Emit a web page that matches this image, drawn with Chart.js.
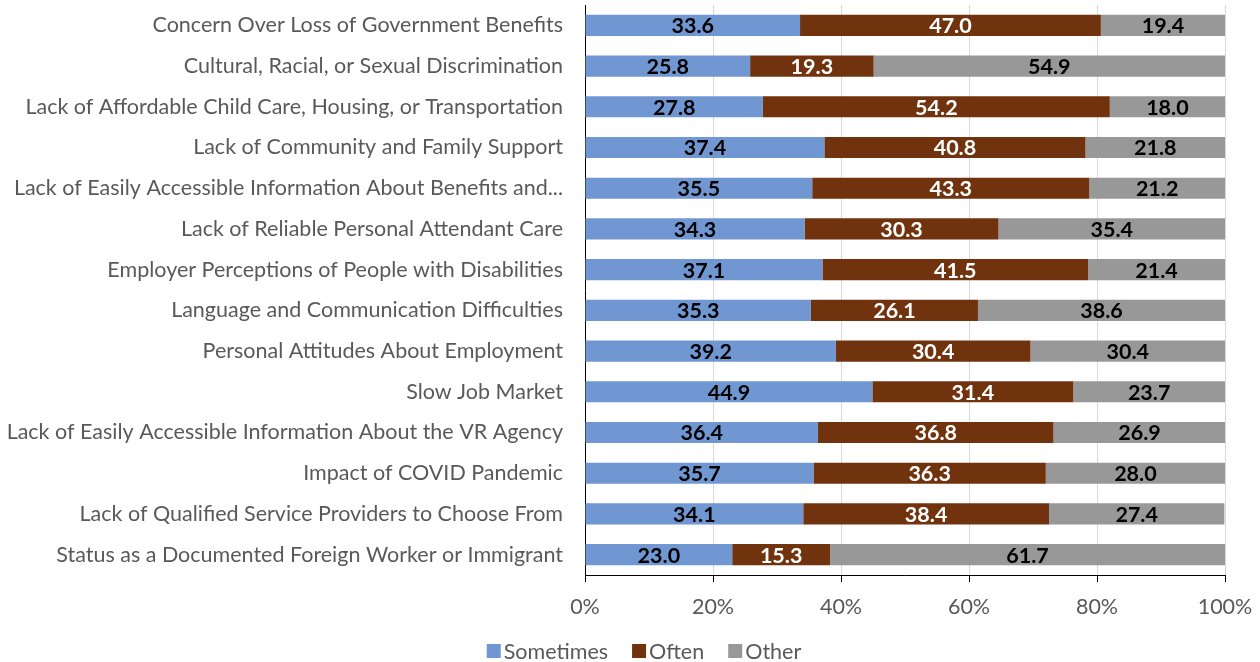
<!DOCTYPE html>
<html>
<head>
<meta charset="utf-8">
<script src="https://cdn.jsdelivr.net/npm/chart.js@4"></script>
<style>
  html, body { margin: 0; padding: 0; background: #fff; }
  #wrap { width: 1260px; height: 662px; }
</style>
</head>
<body>
<div id="wrap"><canvas id="myChart" width="1260" height="662"></canvas></div>
<script>
var categories = [
    "Concern Over Loss of Government Benefits",
    "Cultural, Racial, or Sexual Discrimination",
    "Lack of Affordable Child Care, Housing, or Transportation",
    "Lack of Community and Family Support",
    "Lack of Easily Accessible Information About Benefits and...",
    "Lack of Reliable Personal Attendant Care",
    "Employer Perceptions of People with Disabilities",
    "Language and Communication Difficulties",
    "Personal Attitudes About Employment",
    "Slow Job Market",
    "Lack of Easily Accessible Information About the VR Agency",
    "Impact of COVID Pandemic",
    "Lack of Qualified Service Providers to Choose From",
    "Status as a Documented Foreign Worker or Immigrant"
];
var sometimesValues = [33.6, 25.8, 27.8, 37.4, 35.5, 34.3, 37.1, 35.3, 39.2, 44.9, 36.4, 35.7, 34.1, 23.0];
var oftenValues = [47.0, 19.3, 54.2, 40.8, 43.3, 30.3, 41.5, 26.1, 30.4, 31.4, 36.8, 36.3, 38.4, 15.3];
var otherValues = [19.4, 54.9, 18.0, 21.8, 21.2, 35.4, 21.4, 38.6, 30.4, 23.7, 26.9, 28.0, 27.4, 61.7];
var xTicks = [0, 20, 40, 60, 80, 100];

var labelColors = ["#000000", "#ffffff", "#000000"];
var fontSize = 21.5;

// writes the value in the middle of every bar segment
const segmentLabels = {
    id: "segmentLabels",
    afterDatasetsDraw(chart) {
        const ctx = chart.ctx;
        ctx.save();
        ctx.font = "bold " + fontSize + "px Lato";
        ctx.textAlign = "center";
        ctx.textBaseline = "middle";
        chart.data.datasets.forEach((ds, i) => {
            const meta = chart.getDatasetMeta(i);
            meta.data.forEach((bar, j) => {
                const p = bar.getProps(["x", "y", "base"], true);
                ctx.fillStyle = labelColors[i];
                ctx.fillText(ds.data[j].toFixed(1), (p.x + p.base) / 2, p.y + 1);
            });
        });
        ctx.restore();
    }
};

// small legend under the axis: square swatch, tight gap, then the name
const bottomLegend = {
    id: "bottomLegend",
    afterDraw(chart) {
        const ctx = chart.ctx;
        const box = 14, gap = 3, itemGap = 24, centerX = 644, y = 651;
        ctx.save();
        ctx.font = fontSize + "px Lato";
        ctx.textBaseline = "middle";
        const items = chart.data.datasets.map(ds => ({
            text: ds.label, color: ds.backgroundColor, w: ctx.measureText(ds.label).width
        }));
        let total = items.reduce((s, it) => s + box + gap + it.w, 0) + itemGap * (items.length - 1);
        let x = centerX - total / 2;
        items.forEach(it => {
            ctx.fillStyle = it.color;
            ctx.fillRect(x, y - box / 2, box, box);
            ctx.fillStyle = "#595959";
            ctx.fillText(it.text, x + box + gap, y + 1);
            x += box + gap + it.w + itemGap;
        });
        ctx.restore();
    }
};

new Chart("myChart", {
    type: "bar",
    data: {
        labels: categories,
        datasets: [
            { label: "Sometimes", data: sometimesValues, backgroundColor: "#7097d2" },
            { label: "Often", data: oftenValues, backgroundColor: "#71330e" },
            { label: "Other", data: otherValues, backgroundColor: "#989898" }
        ]
    },
    options: {
        indexAxis: "y",
        responsive: false,
        animation: false,
        layout: { padding: { top: 5, right: 35, bottom: 0, left: 0 } },
        datasets: { bar: { barPercentage: 0.52, categoryPercentage: 1.0 } },
        scales: {
            x: {
                stacked: true,
                min: 0,
                max: 100,
                afterBuildTicks: (scale) => { scale.ticks = xTicks.map(v => ({ value: v })); },
                afterFit: (scale) => {
                    scale.height = 87;
                    scale.paddingLeft = 0;
                    scale.paddingRight = 0;
                },
                ticks: {
                    callback: (v) => v + "%",
                    color: "#595959",
                    font: { family: "Lato", size: fontSize },
                    padding: 12
                },
                grid: { color: "#d9d9d9", tickColor: "#000000", tickLength: 7 },
                border: { color: "#000000", width: 1 }
            },
            y: {
                stacked: true,
                afterFit: (scale) => {
                    scale.width = 585;
                    scale.paddingTop = 0;
                    scale.paddingBottom = 0;
                },
                ticks: {
                    color: "#595959",
                    font: { family: "Lato", size: fontSize },
                    padding: 22
                },
                grid: { display: false, tickLength: 0 },
                border: { color: "#000000", width: 1 }
            }
        },
        plugins: {
            legend: { display: false },
            tooltip: { enabled: false }
        }
    },
    plugins: [segmentLabels, bottomLegend]
});
</script>
</body>
</html>
